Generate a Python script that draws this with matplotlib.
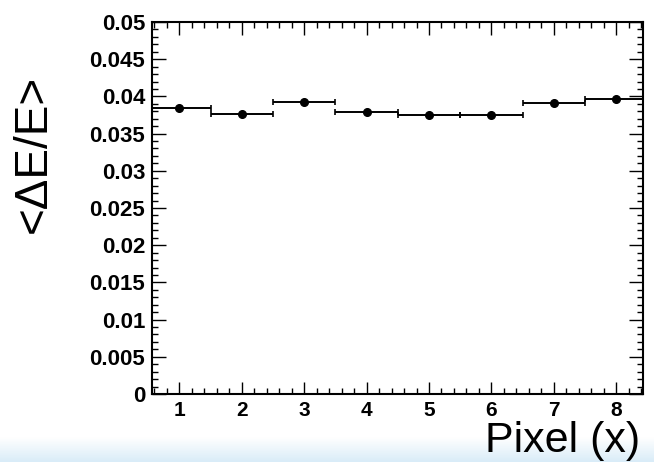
import numpy as np
import matplotlib
matplotlib.use('Agg')
import matplotlib.pyplot as plt
from matplotlib.ticker import MultipleLocator

# data
pixel = [1, 2, 3, 4, 5, 6, 7, 8]
mean_res = [0.0384, 0.0377, 0.0392, 0.0379, 0.0375, 0.0375, 0.0391, 0.0397]
res_err = [0.0003, 0.0003, 0.0003, 0.0003, 0.0003, 0.0003, 0.0001, 0.0001]
bin_half = [0.5] * 8

plt.rcParams['font.family'] = ['Liberation Sans', 'DejaVu Sans']

fig = plt.figure(figsize=(6.54, 4.62), dpi=100)

# light blue strip along the bottom edge
bg = fig.add_axes([0, 0, 1, 25 / 462], zorder=-1)
grad = np.linspace(0, 1, 50).reshape(-1, 1)
cmap = matplotlib.colors.LinearSegmentedColormap.from_list('strip', ['#d9ecf8', '#ffffff'])
bg.imshow(grad, aspect='auto', cmap=cmap, origin='lower', extent=[0, 1, 0, 1])
bg.axis('off')

ax = fig.add_axes([152 / 654, 1 - 394 / 462, (643 - 152) / 654, (394 - 22) / 462])

ax.errorbar(pixel, mean_res, xerr=bin_half, fmt='none', ecolor='black',
            elinewidth=1.4, capsize=2.5, capthick=1.2)
ax.errorbar(pixel, mean_res, yerr=res_err, fmt='o', color='black',
            markersize=5.5, elinewidth=2, capsize=0)

ax.set_xlim(0.56, 8.43)
ax.set_ylim(0, 0.05)

ax.xaxis.set_major_locator(MultipleLocator(1))
ax.xaxis.set_minor_locator(MultipleLocator(0.2))
ax.yaxis.set_minor_locator(MultipleLocator(0.001))
ax.set_yticks(np.arange(0, 0.0501, 0.005))
ax.set_yticklabels(['0', '0.005', '0.01', '0.015', '0.02', '0.025', '0.03',
                    '0.035', '0.04', '0.045', '0.05'])

ax.tick_params(which='both', direction='in', top=True, right=True, width=1)
ax.tick_params(axis='x', which='major', length=9, pad=5, labelsize=15)
ax.tick_params(axis='x', which='minor', length=4.5)
ax.tick_params(axis='y', which='major', length=10, pad=5, labelsize=16)
ax.tick_params(axis='y', which='minor', length=4.5)
for lab in ax.get_xticklabels() + ax.get_yticklabels():
    lab.set_fontweight('bold')
for sp in ax.spines.values():
    sp.set_linewidth(1.5)

fig.text(34 / 654, 1 - 154 / 462, '<\u0394E/E>', rotation=90, fontsize=33,
         ha='center', va='center')
fig.text(640 / 654, 1 - 452 / 462, 'Pixel (x)', fontsize=31,
         ha='right', va='baseline')

fig.savefig('out.png', dpi=100)
